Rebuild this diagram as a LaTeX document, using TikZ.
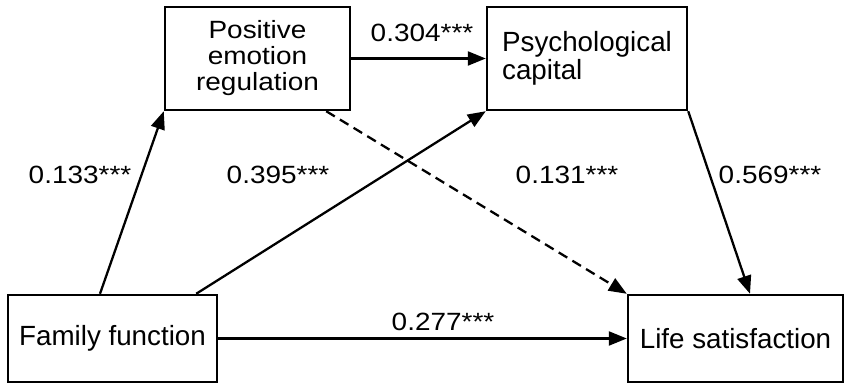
\documentclass[tikz,border=0pt]{standalone}
\usepackage{fontspec}
\setmainfont{Liberation Sans}
\newfontfamily\widesans{Liberation Sans}[FakeStretch=1.12]
\usetikzlibrary{arrows.meta,positioning}

\begin{document}
\begin{tikzpicture}[
  var/.style={rectangle, draw=black, line width=1.4pt, inner sep=0pt, font=\fontsize{15.8pt}{14.5pt}\selectfont},
  coef/.style={font=\widesans\fontsize{14.2pt}{14.8pt}\selectfont},
  effect/.style={-{Triangle[length=0.36cm,width=0.28cm]}, line width=1.3pt},
  nseffect/.style={effect, dash pattern=on 0.2cm off 0.12cm}
]
  \useasboundingbox (0,0) rectangle (17,7.8);

  \node[var, minimum width=4.18cm, minimum height=1.74cm] (ff) at (2.25,1.03) {Family function};
  \node[var, minimum width=3.7cm, minimum height=2.06cm, align=center, font=\widesans\fontsize{14.2pt}{14.8pt}\selectfont] (per) at (5.15,6.63) {Positive\\emotion\\regulation};
  \node[var, minimum width=4cm, minimum height=2.06cm, align=left] (pc) at (11.74,6.63) {Psychological\\capital};
  \node[var, minimum width=4.3cm, minimum height=1.74cm] (ls) at (14.71,1.03) {Life satisfaction};

  \draw[effect] ([xshift=-0.25cm]ff.north) -- (per.south west);
  \draw[effect] ([xshift=-0.44cm]ff.north east) -- (pc.south west);
  \draw[effect] (per.east) -- (pc.west);
  \draw[nseffect] ([xshift=-0.5cm]per.south east) -- (ls.north west);
  \draw[effect] (pc.south east) -- ([xshift=0.29cm]ls.north);
  \draw[effect] (ff.east) -- (ls.west);

  \node[coef] (c133) at (1.6,4.3) {0.133***};
  \node[coef] (c395) at (5.56,4.3) {0.395***};
  \node[coef] (c304) at (8.44,7.14) {0.304***};
  \node[coef] (c131) at (11.34,4.3) {0.131***};
  \node[coef] (c569) at (15.4,4.3) {0.569***};
  \node[coef] (c277) at (8.86,1.36) {0.277***};
\end{tikzpicture}
\end{document}
